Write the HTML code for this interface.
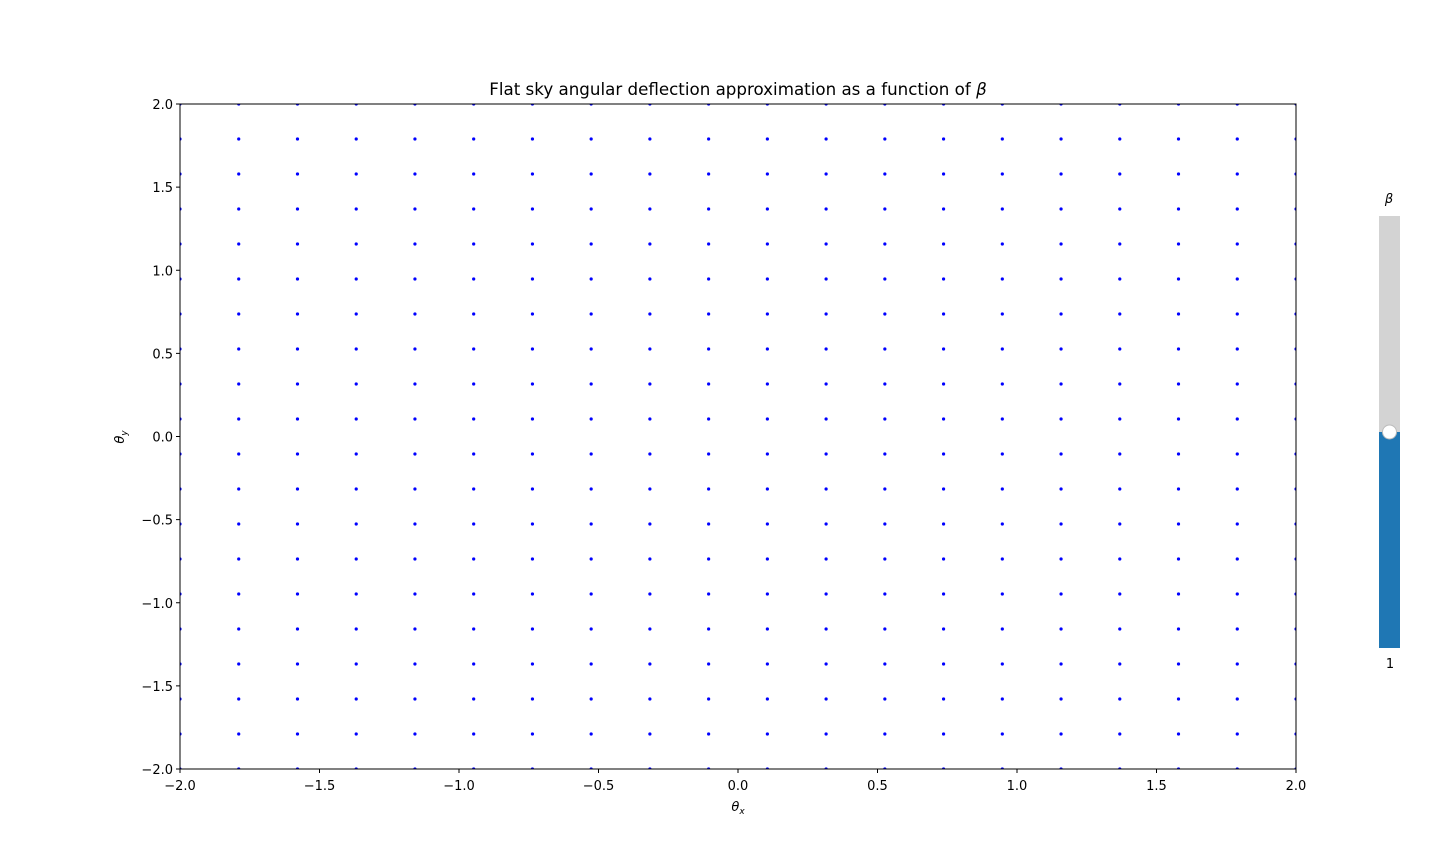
<!DOCTYPE html>
<html><head><meta charset="utf-8"><style>
body{margin:0;background:#fff;font-family:"DejaVu Sans","Liberation Sans",sans-serif;}
svg text{font-family:"DejaVu Sans","Liberation Sans",sans-serif;font-size:13px;fill:#000}
svg text.title{font-size:16.7px}
</style></head><body>
<svg id="c" width="1440" height="864" xmlns="http://www.w3.org/2000/svg"></svg>
<script>
const xTicks=[-2.0,-1.5,-1.0,-0.5,0.0,0.5,1.0,1.5,2.0];
const yTicks=[-2.0,-1.5,-1.0,-0.5,0.0,0.5,1.0,1.5,2.0];
const xTickLabels=["\u22122.0","\u22121.5","\u22121.0","\u22120.5","0.0","0.5","1.0","1.5","2.0"];
const yTickLabels=["\u22122.0","\u22121.5","\u22121.0","\u22120.5","0.0","0.5","1.0","1.5","2.0"];
const gridX=[-2,-1.7895,-1.5789,-1.3684,-1.1579,-0.9474,-0.7368,-0.5263,-0.3158,-0.1053,0.1053,0.3158,0.5263,0.7368,0.9474,1.1579,1.3684,1.5789,1.7895,2];
const gridY=[-2,-1.7895,-1.5789,-1.3684,-1.1579,-0.9474,-0.7368,-0.5263,-0.3158,-0.1053,0.1053,0.3158,0.5263,0.7368,0.9474,1.1579,1.3684,1.5789,1.7895,2];
const betaValue=1;
const betaMin=0, betaMax=2;
const L=180,R=1296,T=104,B=769;
const sx=v=>L+(v+2)/4*(R-L);
const sy=v=>B-(v+2)/4*(B-T);
const svg=document.getElementById('c');
const NS='http://www.w3.org/2000/svg';
function mk(t,a,txt){const e=document.createElementNS(NS,t);for(const k in a)e.setAttribute(k,a[k]);if(txt!==undefined)e.textContent=txt;svg.appendChild(e);return e;}
const defs=mk('defs',{});
const cp=document.createElementNS(NS,'clipPath');cp.setAttribute('id','clip');
const cr=document.createElementNS(NS,'rect');cr.setAttribute('x',L);cr.setAttribute('y',T);cr.setAttribute('width',R-L);cr.setAttribute('height',B-T);
cp.appendChild(cr);defs.appendChild(cp);
const g=mk('g',{'clip-path':'url(#clip)'});


for(const x of gridX)for(const y of gridY){
 const c=document.createElementNS(NS,'circle');
 c.setAttribute('cx',sx(x));c.setAttribute('cy',sy(y));c.setAttribute('r',1.6);c.setAttribute('fill','#0000ff');
 
 
 g.appendChild(c);
}
const frame=mk('rect',{x:L,y:T,width:R-L,height:B-T,fill:'none',stroke:'#000','stroke-width':1});


xTicks.forEach((v,i)=>{
 mk('line',{x1:sx(v),x2:sx(v),y1:B,y2:B+4,stroke:'#000'});
 const t=mk('text',{x:sx(v),y:B+21,'text-anchor':'middle'},xTickLabels[i]);
 
 
});
yTicks.forEach((v,i)=>{
 mk('line',{x1:L-4,x2:L,y1:sy(v),y2:sy(v),stroke:'#000'});
 const t=mk('text',{x:L-7,y:sy(v)+5,'text-anchor':'end'},yTickLabels[i]);
 
 
});
const title=mk('text',{x:(L+R)/2,y:95,'text-anchor':'middle','class':'title'});
title.innerHTML='Flat sky angular deflection approximation as a function of <tspan font-style="italic">β</tspan>';


const xl=mk('text',{x:(L+R)/2,y:811,'text-anchor':'middle'});
xl.innerHTML='<tspan font-style="italic">θ</tspan><tspan style="font-size:9px" dy="3" font-style="italic">x</tspan>';


const yl=mk('text',{transform:'translate(124,437) rotate(-90)','text-anchor':'middle'});
yl.innerHTML='<tspan font-style="italic">θ</tspan><tspan style="font-size:9px" dy="3" font-style="italic">y</tspan>';


const sT=216,sB=648,sX=1379,sW=21;
const hy=sB-(betaValue-betaMin)/(betaMax-betaMin)*(sB-sT);
const tr=mk('rect',{x:sX,y:sT,width:sW,height:sB-sT,fill:'#d3d3d3'});


const fl=mk('rect',{x:sX,y:hy,width:sW,height:sB-hy,fill:'#1f77b4'});


const hd=mk('circle',{cx:sX+sW/2,cy:hy,r:7,fill:'#fff',stroke:'#bbb','stroke-width':1});


const bl=mk('text',{x:1389,y:203,'text-anchor':'middle','font-style':'italic'},'β');


const bv=mk('text',{x:1390,y:668,'text-anchor':'middle'},String(betaValue));


</script>
</body></html>
